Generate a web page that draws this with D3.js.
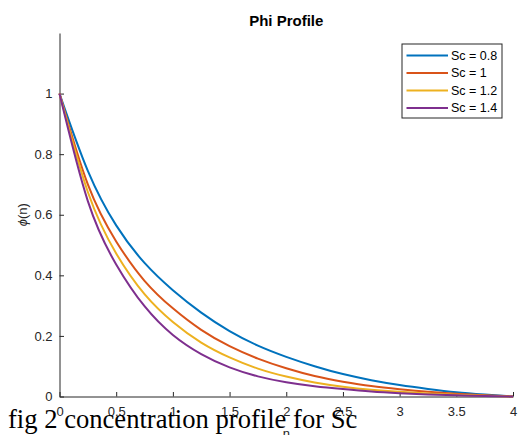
<!DOCTYPE html>
<html lang="en">
	<head>
		<meta charset="utf-8">
		<title>Phi Profile</title>
		<script src="https://d3js.org/d3.v7.min.js"></script>
		<style type="text/css">
			body { margin: 0; background: #fff; }
			svg { display: block; }
			.axis text { font-family: Arial, "Liberation Sans", sans-serif; font-size: 13px; fill: #262626; }
			.axis path, .axis line { stroke: #262626; }
		</style>
	</head>
	<body>
		<div id="chart"></div>

		<script type="text/javascript">

			// eta samples shared by every curve
			var eta = [0, 0.25, 0.5, 0.75, 1, 1.25, 1.5, 1.75, 2, 2.25, 2.5, 2.75, 3, 3.25, 3.5, 3.75, 4];

			// phi values, one list per Schmidt number
			var phiSc08 = [1, 0.745, 0.565, 0.441, 0.351, 0.277, 0.216, 0.168, 0.131, 0.1, 0.074, 0.054, 0.038, 0.025, 0.014, 0.0065, 0];
			var phiSc10 = [1, 0.70, 0.512, 0.382, 0.291, 0.22, 0.166, 0.125, 0.093, 0.0675, 0.049, 0.0343, 0.024, 0.0155, 0.009, 0.0042, 0];
			var phiSc12 = [1, 0.675, 0.472, 0.338, 0.246, 0.178, 0.129, 0.092, 0.066, 0.0465, 0.0325, 0.0225, 0.0155, 0.01, 0.006, 0.0028, 0];
			var phiSc14 = [1, 0.645, 0.436, 0.298, 0.203, 0.14, 0.096, 0.0665, 0.047, 0.034, 0.0245, 0.0165, 0.011, 0.0068, 0.004, 0.0018, 0];

			var seriesNames = ["Sc = 0.8", "Sc = 1", "Sc = 1.2", "Sc = 1.4"];
			var seriesValues = [phiSc08, phiSc10, phiSc12, phiSc14];
			var colors = ["#0072BD", "#D95319", "#EDB120", "#7E2F8E"];

			var xTicks = [0, 0.5, 1, 1.5, 2, 2.5, 3, 3.5, 4];
			var yTicks = [0, 0.2, 0.4, 0.6, 0.8, 1];

			var W = 519, H = 435;
			var margin = {top: 33, right: 6, bottom: 38.5, left: 59.5}
			  , width = W - margin.left - margin.right
			  , height = H - margin.top - margin.bottom;

			var x = d3.scaleLinear().domain([0, 4]).range([0, width]);
			var y = d3.scaleLinear().domain([0, 1.2]).range([height, 0]);

			var svg = d3.select('#chart')
				.append('svg')
				.attr('width', W)
				.attr('height', H);

			svg.append('rect').attr('width', W).attr('height', H).attr('fill', '#fff');

			var main = svg.append('g')
				.attr('transform', 'translate(' + margin.left + ',' + margin.top + ')');

			// x axis, ticks pointing inward
			main.append('g')
				.attr('class', 'axis')
				.attr('transform', 'translate(0,' + height + ')')
				.call(d3.axisBottom(x).tickValues(xTicks).tickFormat(d3.format('~g'))
					.tickSizeInner(-4.5).tickSizeOuter(0).tickPadding(10.5));

			// y axis
			main.append('g')
				.attr('class', 'axis')
				.call(d3.axisLeft(y).tickValues(yTicks).tickFormat(d3.format('~g'))
					.tickSizeInner(-4.5).tickSizeOuter(0).tickPadding(7));

			// curves
			var line = d3.line()
				.x(function (d, i) { return x(eta[i]); })
				.y(function (d) { return y(d); })
				.curve(d3.curveNatural);

			main.selectAll('.curve')
				.data(seriesValues)
				.enter().append('path')
				.attr('class', 'curve')
				.attr('d', line)
				.attr('fill', 'none')
				.attr('stroke', function (d, i) { return colors[i]; })
				.attr('stroke-width', 2);

			// title
			svg.append('text')
				.attr('x', margin.left + width / 2)
				.attr('y', 26)
				.attr('text-anchor', 'middle')
				.style('font-family', 'Arial, "Liberation Sans", sans-serif')
				.style('font-size', '15px')
				.style('font-weight', 'bold')
				.style('fill', '#000')
				.text('Phi Profile');

			// y label
			svg.append('text')
				.attr('transform', 'translate(27,' + (margin.top + y(0.6)) + ') rotate(-90)')
				.attr('text-anchor', 'middle')
				.style('font-family', 'Arial, "Liberation Sans", sans-serif')
				.style('font-size', '13px')
				.style('fill', '#262626')
				.html('<tspan font-style="italic">\u03d5</tspan>(n)');

			// x label, mostly cut off at the bottom edge
			svg.append('text')
				.attr('x', margin.left + width / 2)
				.attr('y', 438)
				.attr('text-anchor', 'middle')
				.style('font-family', 'Arial, "Liberation Sans", sans-serif')
				.style('font-size', '13px')
				.style('fill', '#262626')
				.text('n');

			// legend
			var legend = svg.append('g').attr('transform', 'translate(402,44)');
			legend.append('rect')
				.attr('width', 100).attr('height', 74)
				.attr('fill', '#fff').attr('stroke', '#262626').attr('stroke-width', 1);
			var rows = legend.selectAll('.row')
				.data(seriesNames)
				.enter().append('g')
				.attr('transform', function (d, i) { return 'translate(0,' + (11.5 + i * 17.5) + ')'; });
			rows.append('line')
				.attr('x1', 4.5).attr('x2', 46)
				.attr('stroke', function (d, i) { return colors[i]; })
				.attr('stroke-width', 2);
			rows.append('text')
				.attr('x', 49).attr('dy', '0.35em')
				.style('font-family', 'Arial, "Liberation Sans", sans-serif')
				.style('font-size', '12.5px')
				.style('fill', '#000')
				.text(function (d) { return d; });

			// caption laid over the bottom of the figure
			svg.append('text')
				.attr('x', 8)
				.attr('y', 428)
				.style('font-family', '"Liberation Serif", "Times New Roman", serif')
				.style('font-size', '26.6px')
				.style('fill', '#000')
				.text('fig 2 concentration profile for Sc');

		</script>
	</body>
</html>
